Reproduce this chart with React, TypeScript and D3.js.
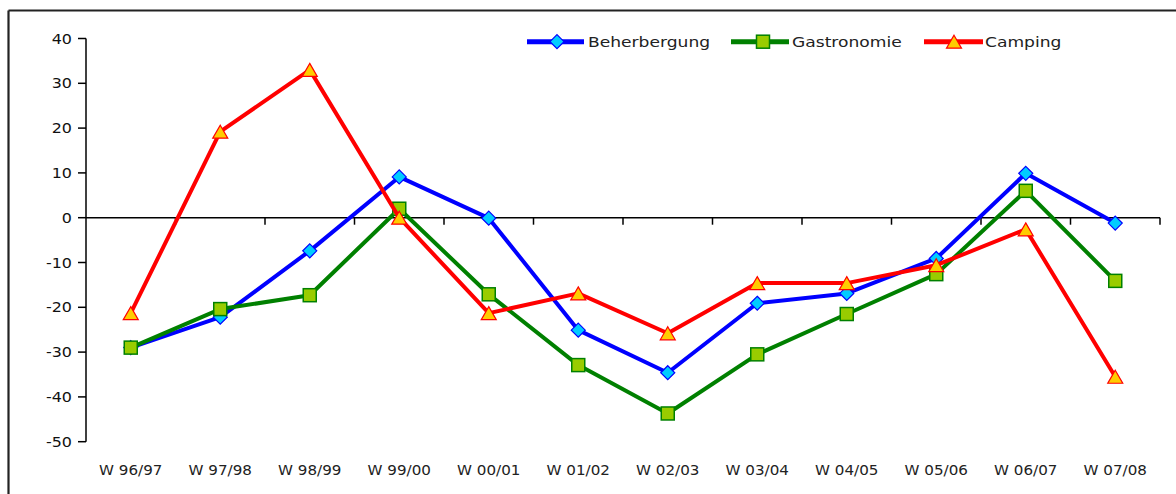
import React from "react";
import * as d3 from "d3";

const categories = ["W 96/97", "W 97/98", "W 98/99", "W 99/00", "W 00/01", "W 01/02", "W 02/03", "W 03/04", "W 04/05", "W 05/06", "W 06/07", "W 07/08"];
const beherbergung = [-29, -22.2, -7.4, 9.1, -0.1, -25.1, -34.6, -19.1, -16.9, -9.1, 9.9, -1.2];
const gastronomie = [-29, -20.4, -17.3, 2, -17.1, -32.9, -43.7, -30.5, -21.5, -12.6, 6, -14.1];
const camping = [-21.3, 19.2, 33, 0, -21.3, -16.9, -25.8, -14.6, -14.6, -10.6, -2.6, -35.5];
const yTicks = [40, 30, 20, 10, 0, -10, -20, -30, -40, -50];
const seriesNames = ["Beherbergung", "Gastronomie", "Camping"];

const W = 1176;
const H = 494;
const left = 86;
const right = 1160;
const top = 38.5;
const bottom = 441.7;

const FONT = "'DejaVu Sans', sans-serif";

export default function App() {
  const x = d3.scaleBand<string>().domain(categories).range([left, right]);
  const y = d3.scaleLinear().domain([-50, 40]).range([bottom, top]);
  const cx = (c: string) => (x(c) as number) + x.bandwidth() / 2;
  const line = d3
    .line<number>()
    .x((_, i) => cx(categories[i]))
    .y((d) => y(d));

  const series = [
    { name: seriesNames[0], data: beherbergung, color: "#0000FF", fill: "#00CCFF", shape: "diamond" },
    { name: seriesNames[1], data: gastronomie, color: "#008000", fill: "#99CC00", shape: "square" },
    { name: seriesNames[2], data: camping, color: "#FF0000", fill: "#FFCC00", shape: "triangle" },
  ];

  const marker = (shape: string, px: number, py: number, color: string, fill: string, key: string | number) => {
    if (shape === "diamond") {
      const r = 7;
      return (
        <path key={key} d={`M${px},${py - r}L${px + r},${py}L${px},${py + r}L${px - r},${py}Z`} fill={fill} stroke={color} strokeWidth={1.2} />
      );
    }
    if (shape === "square") {
      const s = 6.5;
      return <rect key={key} x={px - s} y={py - s} width={2 * s} height={2 * s} fill={fill} stroke={color} strokeWidth={1.5} />;
    }
    const w = 7.5;
    const h = 6.5;
    return (
      <path key={key} d={`M${px},${py - h}L${px + w},${py + h}L${px - w},${py + h}Z`} fill={fill} stroke={color} strokeWidth={1.2} />
    );
  };

  const legendItems = [
    { lx1: 527, lx2: 584, mx: 557, tx: 588 },
    { lx1: 731, lx2: 789, mx: 763, tx: 792 },
    { lx1: 924, lx2: 983, mx: 954, tx: 985 },
  ];
  const legendY = 41.7;
  const sx = 1.18;

  return (
    <svg width={W} height={H} style={{ position: "absolute", left: 0, top: 0, background: "#fff" }}>
      <rect x={0} y={0} width={W} height={H} fill="#fff" />
      {/* outer border */}
      <line x1={8.5} y1={10.5} x2={W} y2={10.5} stroke="#222" strokeWidth={2.2} />
      <line x1={8.5} y1={10.5} x2={8.5} y2={H} stroke="#222" strokeWidth={2.2} />

      {/* y axis */}
      <line x1={left} y1={top} x2={left} y2={bottom} stroke="#000" strokeWidth={1.5} />
      {yTicks.map((t) => (
        <g key={t}>
          <line x1={left - 8} x2={left} y1={y(t)} y2={y(t)} stroke="#000" strokeWidth={1.5} />
          <text
            transform={`translate(${left - 14},${y(t) + 5}) scale(${sx},1)`}
            textAnchor="end"
            fontFamily={FONT}
            fontSize={13.5}
            fill="#111"
          >
            {t}
          </text>
        </g>
      ))}

      {/* x axis at zero */}
      <line x1={left} y1={y(0)} x2={right} y2={y(0)} stroke="#000" strokeWidth={1.5} />
      {categories.map((c, i) => (
        <line key={"t" + i} x1={(x(c) as number) + x.bandwidth()} x2={(x(c) as number) + x.bandwidth()} y1={y(0)} y2={y(0) + 7} stroke="#000" strokeWidth={1.5} />
      ))}
      {categories.map((c) => (
        <text
          key={c}
          transform={`translate(${cx(c)},${475}) scale(${sx * 0.95},1)`}
          textAnchor="middle"
          fontFamily={FONT}
          fontSize={13.5}
          fill="#222"
        >
          {c}
        </text>
      ))}

      {/* series */}
      {series.map((s) => (
        <g key={s.name}>
          <path d={line(s.data) as string} fill="none" stroke={s.color} strokeWidth={4} strokeLinejoin="round" />
          {s.data.map((v, i) => marker(s.shape, cx(categories[i]), y(v), s.color, s.fill, i))}
        </g>
      ))}

      {/* legend */}
      {series.map((s, i) => {
        const li = legendItems[i];
        return (
          <g key={"l" + s.name}>
            <line x1={li.lx1} x2={li.lx2} y1={legendY} y2={legendY} stroke={s.color} strokeWidth={5} />
            {marker(s.shape, li.mx, legendY, s.color, s.fill, "m")}
            <text
              transform={`translate(${li.tx},${legendY + 5.5}) scale(${sx},1)`}
              fontFamily={FONT}
              fontSize={14.5}
              fill="#222"
            >
              {s.name}
            </text>
          </g>
        );
      })}
    </svg>
  );
}
